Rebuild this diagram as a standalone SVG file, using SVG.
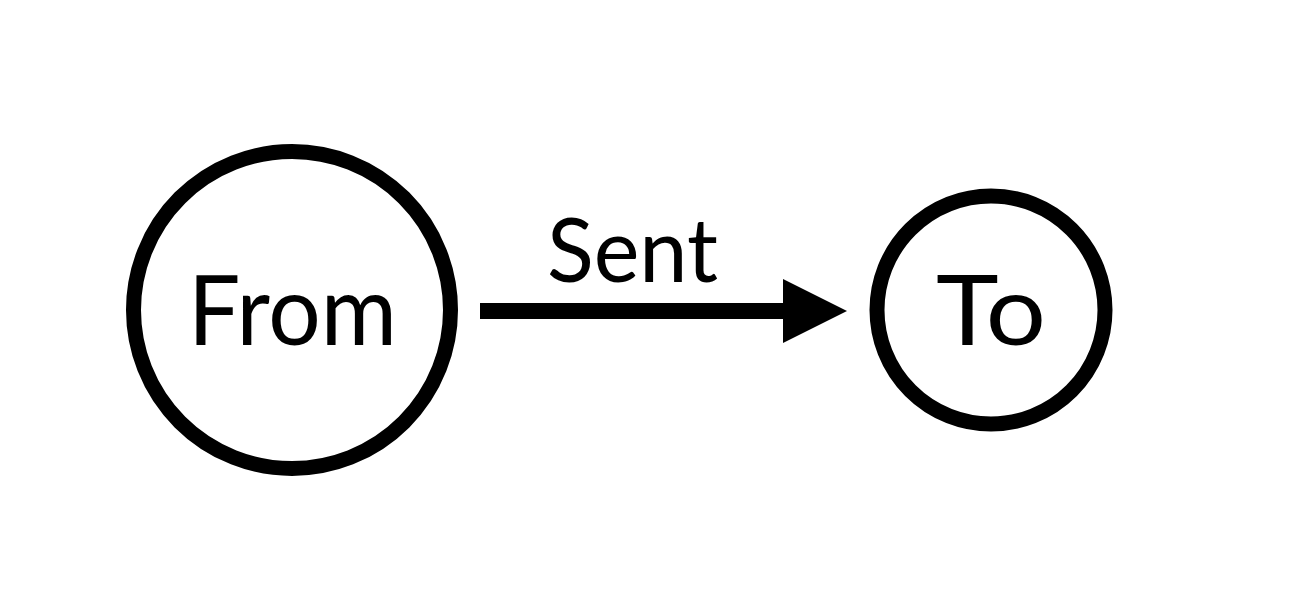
<svg xmlns="http://www.w3.org/2000/svg" width="1300" height="598" viewBox="0 0 1300 598">
<style>
.node{fill:none;stroke:#000;stroke-width:15}
.lbl{font-family:Lato,"Open Sans","Liberation Sans",sans-serif;fill:#000}
</style>
<rect width="1300" height="598" fill="#fff"/>
<g id="from">
<circle class="node" cx="292" cy="310" r="158.5"/>
<text class="lbl" x="188" y="345" font-size="96" textLength="209" lengthAdjust="spacingAndGlyphs">From</text>
</g>
<g id="to">
<circle class="node" cx="991" cy="310" r="114"/>
<text class="lbl" x="936" y="345" font-size="96" textLength="110" lengthAdjust="spacingAndGlyphs">To</text>
</g>
<g id="connectors">
<line x1="480" y1="311" x2="785" y2="311" stroke="#000" stroke-width="16"/>
<polygon points="783,279 847,311 783,343" fill="#000"/>
<text class="lbl" x="547" y="282" font-size="89" textLength="171" lengthAdjust="spacingAndGlyphs">Sent</text>
</g>
</svg>
